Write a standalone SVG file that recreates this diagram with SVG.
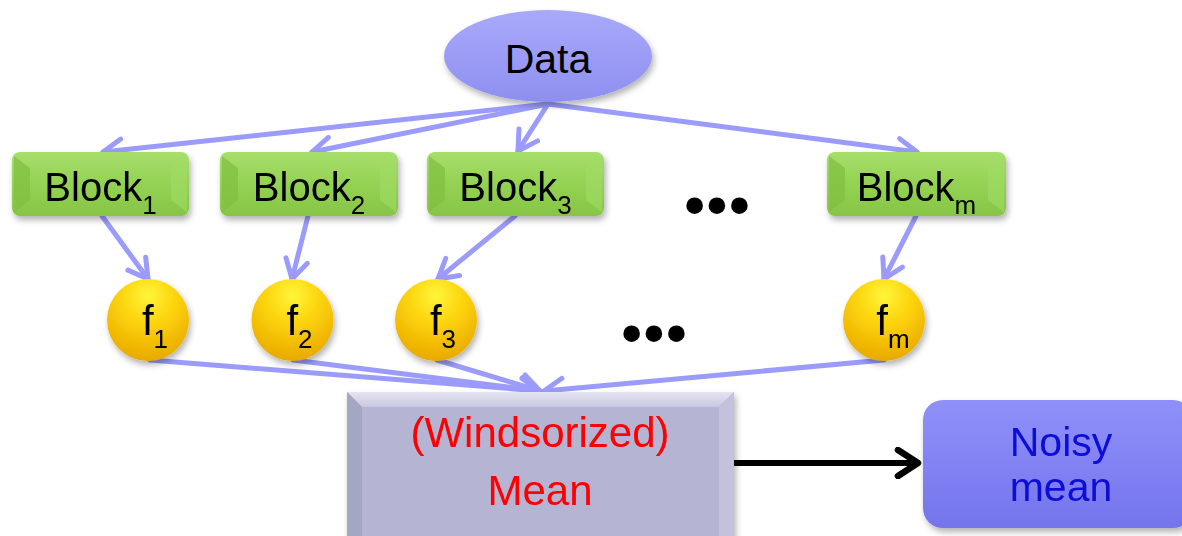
<svg xmlns="http://www.w3.org/2000/svg" width="1182" height="536" viewBox="0 0 1182 536">
<style>
.lbl{font-family:"Liberation Sans",Arial,sans-serif;fill:#000;text-anchor:middle}
.blk{font-size:40px}
.fx{font-size:42px}
.sub{font-size:26px}
.dots{font-family:"Liberation Sans",Arial,sans-serif;font-weight:bold;font-size:58px;fill:#000;text-anchor:middle;letter-spacing:2px}
.conn{stroke:#9b9bfb;stroke-width:5;fill:none;stroke-linecap:round}
.red{font-family:"Liberation Sans",Arial,sans-serif;font-size:42px;fill:#ff0000;text-anchor:middle}
.blue{font-family:"Liberation Sans",Arial,sans-serif;font-size:41px;fill:#0c0cd8;text-anchor:middle}
</style>
<defs>
<linearGradient id="gData" x1="0" y1="0" x2="0" y2="1">
<stop offset="0" stop-color="#a9a9fa"/><stop offset="0.5" stop-color="#9c9cf6"/><stop offset="1" stop-color="#8e8ef0"/>
</linearGradient>
<linearGradient id="gBlk" x1="0" y1="0" x2="0" y2="1">
<stop offset="0" stop-color="#a8de6c"/><stop offset="0.5" stop-color="#93d253"/><stop offset="1" stop-color="#86c545"/>
</linearGradient>
<radialGradient id="gF" cx="0.5" cy="0.2" r="0.8">
<stop offset="0" stop-color="#fff53a"/><stop offset="0.45" stop-color="#fcd20a"/><stop offset="1" stop-color="#e9a900"/>
</radialGradient>
<linearGradient id="gNoisy" x1="0" y1="0" x2="0" y2="1">
<stop offset="0" stop-color="#9090fa"/><stop offset="0.5" stop-color="#8282f4"/><stop offset="1" stop-color="#7474ec"/>
</linearGradient>
<linearGradient id="gMeanTop" x1="0" y1="0" x2="0" y2="1">
<stop offset="0" stop-color="#e4e4f2"/><stop offset="1" stop-color="#c8c8e0"/>
</linearGradient>
<filter id="sh" x="-10%" y="-10%" width="125%" height="135%">
<feDropShadow dx="2" dy="4" stdDeviation="3" flood-color="#000" flood-opacity="0.3"/>
</filter>
<marker id="ah" viewBox="-24 -15 28 30" refX="0" refY="0" markerWidth="28" markerHeight="30" markerUnits="userSpaceOnUse" orient="auto">
<path d="M -19 -11 L 0 0 L -19 11" fill="none" stroke="#9b9bfb" stroke-width="5" stroke-linecap="round" stroke-linejoin="round"/>
</marker>
<marker id="ahk" viewBox="-26 -16 30 32" refX="0" refY="0" markerWidth="30" markerHeight="32" markerUnits="userSpaceOnUse" orient="auto">
<path d="M -20 -13 L 0 0 L -20 13" fill="none" stroke="#000" stroke-width="6.5" stroke-linecap="round" stroke-linejoin="round"/>
</marker>
</defs>

<g id="connectors">
<line class="conn" x1="548" y1="104" x2="103" y2="152" marker-end="url(#ah)"/>
<line class="conn" x1="548" y1="104" x2="312" y2="152" marker-end="url(#ah)"/>
<line class="conn" x1="548" y1="104" x2="518" y2="151" marker-end="url(#ah)"/>
<line class="conn" x1="548" y1="104" x2="917" y2="152" marker-end="url(#ah)"/>
<line class="conn" x1="102" y1="216" x2="148" y2="279" marker-end="url(#ah)"/>
<line class="conn" x1="308" y1="216" x2="292" y2="279" marker-end="url(#ah)"/>
<line class="conn" x1="515" y1="216" x2="438" y2="279" marker-end="url(#ah)"/>
<line class="conn" x1="916" y1="216" x2="884" y2="279" marker-end="url(#ah)"/>
<line class="conn" x1="150" y1="360" x2="540" y2="391" marker-end="url(#ah)"/>
<line class="conn" x1="293" y1="360" x2="540" y2="391" marker-end="url(#ah)"/>
<line class="conn" x1="437" y1="360" x2="540" y2="391" marker-end="url(#ah)"/>
<line class="conn" x1="884" y1="360" x2="544" y2="391" marker-end="url(#ah)"/>
<line x1="734" y1="463" x2="918" y2="463" stroke="#000" stroke-width="6" marker-end="url(#ahk)"/>
</g>

<g id="data">
<ellipse cx="548" cy="56" rx="104" ry="46" fill="url(#gData)" filter="url(#sh)"/>
<text class="lbl" x="548" y="73" font-size="41">Data</text>
</g>

<g id="block1" filter="url(#sh)">
<rect x="12" y="152" width="177" height="64" rx="8" fill="url(#gBlk)"/>
<polygon points="14,156 30,168 30,200 14,212" fill="#7fbf40" opacity="0.7"/>
<polygon points="187,156 171,168 171,200 187,212" fill="#a2dc66" opacity="0.6"/>
<text class="lbl blk" x="100.5" y="201">Block<tspan class="sub" dy="13">1</tspan></text>
</g>
<g id="block2" filter="url(#sh)">
<rect x="220" y="152" width="178" height="64" rx="8" fill="url(#gBlk)"/>
<polygon points="222,156 238,168 238,200 222,212" fill="#7fbf40" opacity="0.7"/>
<polygon points="396,156 380,168 380,200 396,212" fill="#a2dc66" opacity="0.6"/>
<text class="lbl blk" x="309" y="201">Block<tspan class="sub" dy="13">2</tspan></text>
</g>
<g id="block3" filter="url(#sh)">
<rect x="427" y="152" width="177" height="64" rx="8" fill="url(#gBlk)"/>
<polygon points="429,156 445,168 445,200 429,212" fill="#7fbf40" opacity="0.7"/>
<polygon points="602,156 586,168 586,200 602,212" fill="#a2dc66" opacity="0.6"/>
<text class="lbl blk" x="515.5" y="201">Block<tspan class="sub" dy="13">3</tspan></text>
</g>
<g id="blockm" filter="url(#sh)">
<rect x="827" y="152" width="179" height="64" rx="8" fill="url(#gBlk)"/>
<polygon points="829,156 845,168 845,200 829,212" fill="#7fbf40" opacity="0.7"/>
<polygon points="1004,156 988,168 988,200 1004,212" fill="#a2dc66" opacity="0.6"/>
<text class="lbl blk" x="916.5" y="201">Block<tspan class="sub" dy="13">m</tspan></text>
</g>

<g id="dots1"><text class="dots" x="718" y="225">•••</text></g>

<g id="f1" filter="url(#sh)">
<circle cx="148" cy="320" r="41" fill="url(#gF)"/>
<text class="lbl fx" x="155" y="335">f<tspan class="sub" dy="13">1</tspan></text>
</g>
<g id="f2" filter="url(#sh)">
<circle cx="292.5" cy="320" r="41" fill="url(#gF)"/>
<text class="lbl fx" x="299.5" y="335">f<tspan class="sub" dy="13">2</tspan></text>
</g>
<g id="f3" filter="url(#sh)">
<circle cx="436" cy="320" r="41" fill="url(#gF)"/>
<text class="lbl fx" x="443" y="335">f<tspan class="sub" dy="13">3</tspan></text>
</g>
<g id="fm" filter="url(#sh)">
<circle cx="884" cy="320" r="41" fill="url(#gF)"/>
<text class="lbl fx" x="893" y="335">f<tspan class="sub" dy="13">m</tspan></text>
</g>

<g id="dots2"><text class="dots" x="655" y="353">•••</text></g>

<g id="mean" filter="url(#sh)">
<rect x="347" y="392" width="387" height="150" fill="#b5b5d3"/>
<polygon points="347,392 734,392 719,407 362,407" fill="url(#gMeanTop)"/>
<polygon points="347,392 362,407 362,542 347,542" fill="#a5a5c4"/>
<polygon points="734,392 719,407 719,542 734,542" fill="#c2c2dc"/>
<text class="red" x="540" y="447">(Windsorized)</text>
<text class="red" x="540" y="505">Mean</text>
</g>

<g id="noisy" filter="url(#sh)">
<rect x="923" y="400" width="270" height="128" rx="20" fill="url(#gNoisy)"/>
<text class="blue" x="1061" y="456">Noisy</text>
<text class="blue" x="1061" y="501">mean</text>
</g>
</svg>
